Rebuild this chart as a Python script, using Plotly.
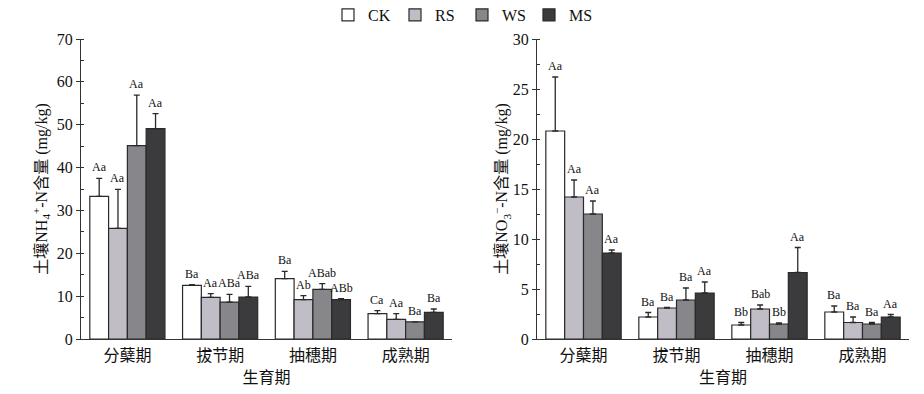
import plotly.graph_objects as go
from plotly.subplots import make_subplots

stages = ["分蘖期", "拔节期", "抽穗期", "成熟期"]
treatments = ["CK", "RS", "WS", "MS"]
colors = ["#ffffff", "#c1bdc6", "#87868b", "#3b3b3d"]

# NH4+-N (mg/kg): means and upper error-bar lengths
nh4_ck = [33.3, 12.5, 14.1, 5.9]
nh4_rs = [25.8, 9.7, 9.2, 4.6]
nh4_ws = [45.1, 8.6, 11.6, 4.0]
nh4_ms = [49.1, 9.8, 9.2, 6.2]
nh4_ck_err = [4.2, 0.2, 1.7, 0.7]
nh4_rs_err = [9.1, 0.9, 0.9, 1.3]
nh4_ws_err = [11.8, 1.8, 1.3, 0.0]
nh4_ms_err = [3.5, 2.5, 0.2, 0.8]
nh4_ck_lab = ["Aa", "Ba", "Ba", "Ca"]
nh4_rs_lab = ["Aa", "Aa", "Ab", "Aa"]
nh4_ws_lab = ["Aa", "ABa", "ABab", "Ba"]
nh4_ms_lab = ["Aa", "ABa", "ABb", "Ba"]

# NO3--N (mg/kg)
no3_ck = [20.8, 2.2, 1.4, 2.7]
no3_rs = [14.2, 3.1, 3.0, 1.65]
no3_ws = [12.5, 3.9, 1.5, 1.5]
no3_ms = [8.6, 4.6, 6.65, 2.2]
no3_ck_err = [5.4, 0.45, 0.25, 0.6]
no3_rs_err = [1.7, 0.05, 0.4, 0.55]
no3_ws_err = [1.3, 1.2, 0.1, 0.15]
no3_ms_err = [0.3, 1.1, 2.5, 0.25]
no3_ck_lab = ["Aa", "Ba", "Bb", "Ba"]
no3_rs_lab = ["Aa", "Ba", "Bab", "Ba"]
no3_ws_lab = ["Aa", "Ba", "Bb", "Ba"]
no3_ms_lab = ["Aa", "Aa", "Aa", "Aa"]

nh4_vals = [nh4_ck, nh4_rs, nh4_ws, nh4_ms]
nh4_errs = [nh4_ck_err, nh4_rs_err, nh4_ws_err, nh4_ms_err]
nh4_labs = [nh4_ck_lab, nh4_rs_lab, nh4_ws_lab, nh4_ms_lab]
no3_vals = [no3_ck, no3_rs, no3_ws, no3_ms]
no3_errs = [no3_ck_err, no3_rs_err, no3_ws_err, no3_ms_err]
no3_labs = [no3_ck_lab, no3_rs_lab, no3_ws_lab, no3_ms_lab]

FONT = "Liberation Serif, 'Times New Roman', 'Noto Sans CJK SC', serif"
W, H = 924, 394
B = 55                      # bottom margin (px)
PLOT_TOP, PLOT_BOT = 39, 339
bargap = 0.19
bw = (1 - bargap) / 4
xs = list(range(len(stages)))

fig = make_subplots(rows=1, cols=2)

for col, (vals, errs, labs) in enumerate(
        [(nh4_vals, nh4_errs, nh4_labs), (no3_vals, no3_errs, no3_labs)], start=1):
    for j, t in enumerate(treatments):
        fig.add_trace(go.Bar(
            x=xs, y=vals[j], name=t, showlegend=(col == 1),
            marker=dict(color=colors[j], line=dict(color="#2a2a2a", width=1.2)),
            error_y=dict(type="data", array=errs[j], arrayminus=[0] * 4,
                         symmetric=False, color="#2a2a2a", thickness=1.3, width=3),
        ), row=1, col=col)
        for i in xs:
            top = vals[j][i] + errs[j][i]
            fig.add_annotation(
                x=i + (j - 1.5) * bw, y=top, text=labs[j][i],
                showarrow=False, yanchor="bottom", yshift=2,
                font=dict(family=FONT, size=12, color="#111"),
                xref="x" if col == 1 else "x2", yref="y" if col == 1 else "y2")

axis_common = dict(showline=True, linecolor="#333", linewidth=1.2, mirror=False,
                   showgrid=False, zeroline=False, automargin=False)

fig.update_xaxes(**axis_common, range=[-0.5, 3.5], tickvals=xs, ticktext=stages,
                 ticks="", ticklabelstandoff=2,
                 tickfont=dict(family=FONT, size=16, color="#111"),
                 title=dict(text="生育期", font=dict(family=FONT, size=16, color="#111"),
                            standoff=8))
fig.update_yaxes(**axis_common, ticks="outside", ticklen=4, tickwidth=1.2, tickcolor="#333",
                 domain=[0, (PLOT_BOT - PLOT_TOP) / (H - B)],
                 tickfont=dict(family=FONT, size=16, color="#111"))

fig.update_yaxes(range=[0, 70], dtick=10,
                 minor=dict(dtick=5, ticks="inside", ticklen=3, tickcolor="#333"),
                 title=dict(text="土壤NH<sub>4</sub><sup>+</sup>-N含量 (mg/kg)",
                            font=dict(family=FONT, size=16, color="#111"), standoff=5),
                 row=1, col=1)
fig.update_yaxes(range=[0, 30], dtick=5,
                 minor=dict(dtick=2.5, ticks="inside", ticklen=3, tickcolor="#333"),
                 title=dict(text="土壤NO<sub>3</sub><sup>−</sup>-N含量 (mg/kg)",
                            font=dict(family=FONT, size=16, color="#111"), standoff=0),
                 row=1, col=2)

fig.update_layout(
    width=W, height=H,
    margin=dict(l=0, r=0, t=0, b=B, autoexpand=False),
    plot_bgcolor="white", paper_bgcolor="white",
    barmode="group", bargap=bargap, bargroupgap=0,
    xaxis=dict(domain=[81 / W, 452 / W]),
    xaxis2=dict(domain=[537 / W, 909 / W]),
    legend=dict(orientation="h", x=0.5, xanchor="center",
                y=(PLOT_BOT - 15) / (H - B), yanchor="middle",
                font=dict(family=FONT, size=16, color="#111"),
                itemwidth=30, entrywidth=22, tracegroupgap=0, bgcolor="rgba(0,0,0,0)"),
    font=dict(family=FONT, color="#111"),
)

fig.write_html("out.html", config={"displayModeBar": False},
               post_script="document.body.style.margin='0px';")
